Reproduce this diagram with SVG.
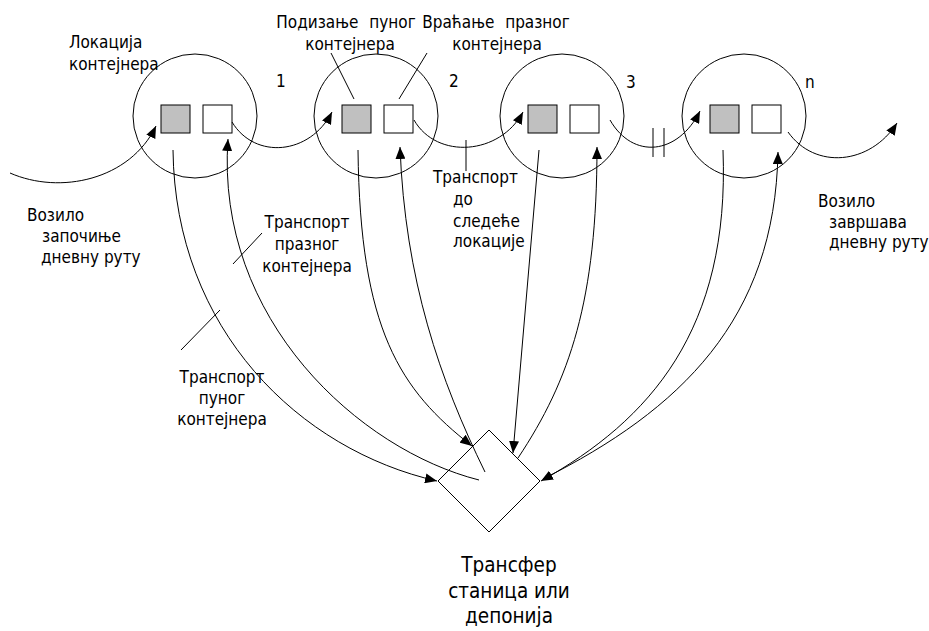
<svg xmlns="http://www.w3.org/2000/svg" width="929" height="631" viewBox="0 0 929 631">
<style>
text{font-family:"DejaVu Sans Condensed","DejaVu Sans",sans-serif;font-size:17px;fill:#000}
.big{font-size:20.5px}
.c{text-anchor:middle}
.loc{fill:none;stroke:#000;stroke-width:1}
.full{fill:#c0c0c0;stroke:#000;stroke-width:1}
.empty{fill:#fff;stroke:#000;stroke-width:1}
.con{fill:none;stroke:#000;stroke-width:1}
.arr{fill:none;stroke:#000;stroke-width:1;marker-end:url(#ah)}
</style>
<defs>
<marker id="ah" viewBox="0 0 12 10" refX="12" refY="5" markerWidth="12" markerHeight="10" markerUnits="userSpaceOnUse" orient="auto">
<path d="M0,0 L12,5 L0,10 Z" fill="#000"/>
</marker>
</defs>
<rect width="929" height="631" fill="#fff"/>

<g id="loc1">
<circle class="loc" cx="195" cy="116" r="62"/>
<rect class="full" x="161" y="105" width="29" height="28"/>
<rect class="empty" x="203" y="105" width="29" height="28"/>
<text x="276" y="87">1</text>
</g>
<g id="loc2">
<circle class="loc" cx="376" cy="116" r="62"/>
<rect class="full" x="342" y="105" width="29" height="28"/>
<rect class="empty" x="384" y="105" width="29" height="28"/>
<text x="449" y="87">2</text>
</g>
<g id="loc3">
<circle class="loc" cx="562" cy="116" r="62"/>
<rect class="full" x="528" y="105" width="29" height="28"/>
<rect class="empty" x="570" y="105" width="29" height="28"/>
<text x="626" y="88">3</text>
</g>
<g id="locn">
<circle class="loc" cx="744" cy="116" r="62"/>
<rect class="full" x="710" y="105" width="29" height="28"/>
<rect class="empty" x="752" y="105" width="29" height="28"/>
<text x="805" y="88">n</text>
</g>
<g id="station">
<polygon class="loc" points="489,430 540,481 489,532 438,481"/>
<text class="big c" x="509" y="572">Трансфер</text>
<text class="big c" x="509" y="598">станица или</text>
<text class="big c" x="509" y="623">депонија</text>
</g>

<g id="labels">
<text x="69" y="48">Локација</text>
<text x="69" y="70">контејнера</text>
<text class="c" x="346" y="28" word-spacing="6">Подизање пуног</text>
<text class="c" x="350" y="50">контејнера</text>
<text class="c" x="496" y="28" word-spacing="6">Враћање празног</text>
<text class="c" x="497" y="50">контејнера</text>
<text x="27" y="221">Возило</text>
<text x="42" y="242">започиње</text>
<text x="41" y="263">дневну руту</text>
<text class="c" x="307" y="228">Транспорт</text>
<text class="c" x="307" y="250">празног</text>
<text class="c" x="307" y="272">контејнера</text>
<text class="c" x="222" y="383">Транспорт</text>
<text class="c" x="222" y="404">пуног</text>
<text class="c" x="222" y="425">контејнера</text>
<text x="433" y="183">Транспорт</text>
<text x="453" y="205">до</text>
<text x="453" y="227">следеће</text>
<text x="453" y="247">локације</text>
<text x="818" y="207">Возило</text>
<text x="829" y="228">завршава</text>
<text x="829" y="248">дневну руту</text>
</g>

<g id="connectors">
<path class="arr" d="M10,173 C60,195 130,180 156,126"/>
<path class="arr" d="M232,122 C255,160 310,155 332,112"/>
<path class="arr" d="M414,120 C437,160 500,155 523,112"/>
<path class="arr" d="M610,120 C633,160 678,155 700,111"/>
<path class="arr" d="M788,132 C815,170 870,165 897,123"/>
<line class="con" x1="653" y1="128" x2="653" y2="157"/>
<line class="con" x1="664" y1="128" x2="664" y2="157"/>

<path class="arr" d="M173,150 C175,330 300,450 437,481"/>
<path class="arr" d="M479,480 C360,450 215,320 228,139"/>
<path class="arr" d="M358,150 C360,330 400,390 472,446"/>
<path class="arr" d="M485,472 C440,380 405,280 400,147"/>
<path class="arr" d="M539,150 L513,453"/>
<path class="arr" d="M518,458 C570,380 597,300 597,147"/>
<path class="arr" d="M723,150 C730,330 650,420 541,481"/>
<path class="arr" d="M543,479 C680,410 775,320 778,152"/>

<line class="con" x1="331" y1="53" x2="354" y2="99"/>
<line class="con" x1="427" y1="53" x2="399" y2="99"/>
<line class="con" x1="466" y1="140" x2="466" y2="171"/>
<line class="con" x1="233" y1="264" x2="262" y2="233"/>
<line class="con" x1="181" y1="350" x2="220" y2="310"/>
</g>
</svg>
